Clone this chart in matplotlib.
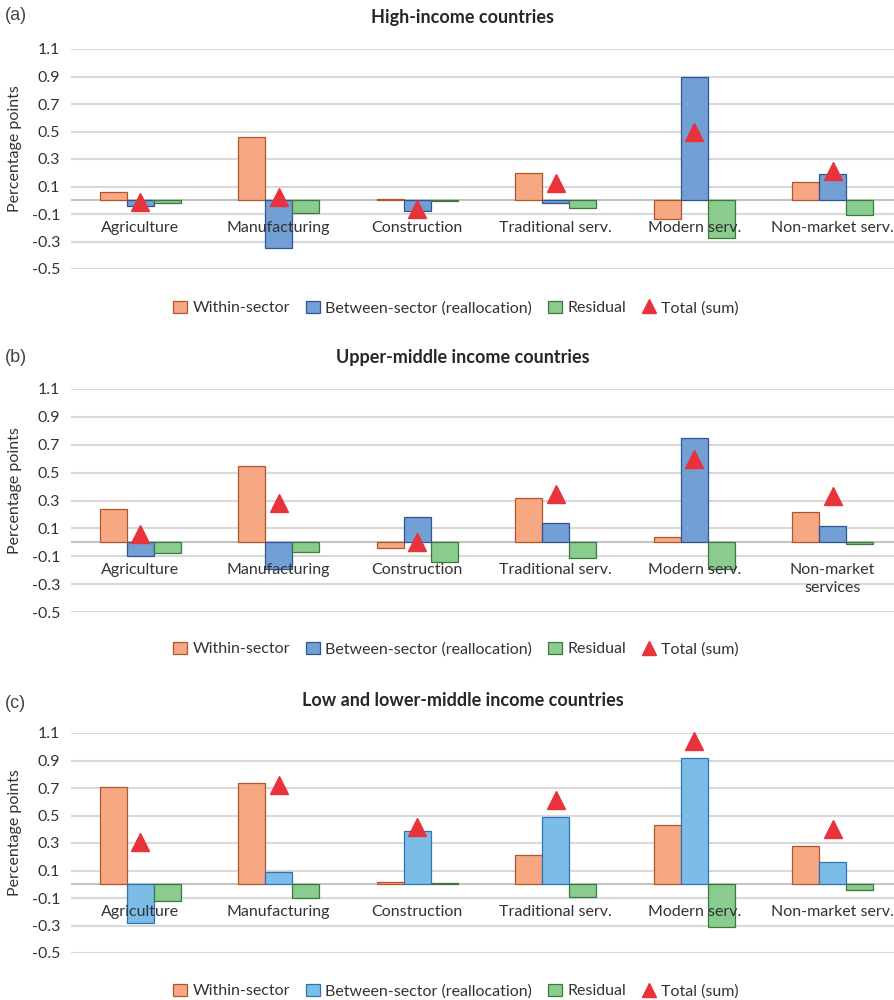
import matplotlib
matplotlib.use("Agg")
import matplotlib.pyplot as plt
import matplotlib.transforms as mtransforms
from matplotlib.patches import Patch
from matplotlib.lines import Line2D

plt.rcParams['font.family'] = ['Lato', 'DejaVu Sans']

SECTORS = ["Agriculture", "Manufacturing", "Construction",
           "Traditional serv.", "Modern serv.", "Non-market serv."]
SECTORS_B = ["Agriculture", "Manufacturing", "Construction",
             "Traditional serv.", "Modern serv.", "Non-market\nservices"]
Y_TICKS = [1.1, 0.9, 0.7, 0.5, 0.3, 0.1, -0.1, -0.3, -0.5]
LEGEND_LABELS = ["Within-sector", "Between-sector (reallocation)", "Residual", "Total (sum)"]

# (a) high-income
high_within = [0.06, 0.46, 0.007, 0.20, -0.135, 0.13]
high_between = [-0.045, -0.345, -0.075, -0.02, 0.90, 0.19]
high_resid = [-0.02, -0.095, -0.003, -0.055, -0.275, -0.105]
high_total = [-0.01, 0.025, -0.065, 0.125, 0.495, 0.215]

# (b) upper-middle income
upper_within = [0.24, 0.55, -0.04, 0.32, 0.04, 0.22]
upper_between = [-0.10, -0.19, 0.18, 0.14, 0.75, 0.12]
upper_resid = [-0.08, -0.07, -0.14, -0.11, -0.19, -0.01]
upper_total = [0.06, 0.285, 0.0, 0.35, 0.60, 0.33]

# (c) low and lower-middle income
low_within = [0.71, 0.74, 0.02, 0.21, 0.43, 0.28]
low_between = [-0.28, 0.09, 0.39, 0.49, 0.92, 0.16]
low_resid = [-0.12, -0.10, 0.01, -0.09, -0.31, -0.04]
low_total = [0.31, 0.725, 0.415, 0.61, 1.04, 0.40]

WITHIN_C, WITHIN_E = '#F6A882', '#B5532B'
BLUE_C, BLUE_E = '#729FD4', '#2F5597'
LBLUE_C, LBLUE_E = '#7CBDE8', '#2E75B6'
RESID_C, RESID_E = '#8ACB8E', '#3B7A3B'
TRI_C = '#E8323C'
TEXT_C = '#333333'

W, H = 895, 1000
fig = plt.figure(figsize=(W / 100, H / 100), dpi=100)


def draw_panel(top_px, bottom_px, letter, title, title_y, letter_y, legend_y,
               labels, within, between, resid, total, bcol, bedge):
    ax = fig.add_axes([71 / W, 1 - bottom_px / H, 824 / W, (bottom_px - top_px) / H])
    ax.set_xlim(-0.5, 5.45)
    ax.set_ylim(-0.5, 1.1)
    for v in Y_TICKS:
        ax.axhline(v, color='#D9D9D9', lw=1.5, zorder=0)
    ax.axhline(0, color='#C4C4C4', lw=1.5, zorder=1)
    bw = 0.195
    x = list(range(len(labels)))
    ax.bar([i - bw for i in x], within, bw, color=WITHIN_C, edgecolor=WITHIN_E, lw=0.9, zorder=2)
    ax.bar(x, between, bw, color=bcol, edgecolor=bedge, lw=0.9, zorder=2)
    ax.bar([i + bw for i in x], resid, bw, color=RESID_C, edgecolor=RESID_E, lw=0.9, zorder=2)
    ax.plot(x, total, ls='none', marker='^', ms=12.5, color=TRI_C, mec=TRI_C, zorder=4, clip_on=False)

    ax.set_yticks(Y_TICKS)
    ax.set_yticklabels([f"{v:.1f}" for v in Y_TICKS], fontsize=11.5, color=TEXT_C)
    ax.tick_params(axis='y', length=0, pad=8)
    ax.set_xticks([])
    for s in ax.spines.values():
        s.set_visible(False)

    trans = mtransforms.offset_copy(ax.transData, fig=fig, y=-21, units='dots')
    for i, lab in enumerate(labels):
        ax.text(i, 0, lab, transform=trans, ha='center', va='top', fontsize=11.5,
                color=TEXT_C, linespacing=1.35, zorder=3)

    ycen = (top_px + bottom_px) / 2 - 10
    fig.text(15 / W, 1 - ycen / H, "Percentage points", rotation=90, ha='center', va='center',
             fontsize=11.5, color=TEXT_C)
    fig.text(463 / W, 1 - title_y / H, title, ha='center', va='center', fontsize=13,
             fontweight='bold', color='#262626')
    fig.text(5 / W, 1 - letter_y / H, letter, ha='left', va='center', fontsize=13,
             family=['Liberation Sans', 'DejaVu Sans'], color='#444444')

    handles = [Patch(facecolor=WITHIN_C, edgecolor=WITHIN_E, lw=0.9),
               Patch(facecolor=bcol, edgecolor=bedge, lw=0.9),
               Patch(facecolor=RESID_C, edgecolor=RESID_E, lw=0.9),
               Line2D([], [], ls='none', marker='^', ms=10, color=TRI_C)]
    leg = fig.legend(handles, LEGEND_LABELS, loc='center', ncol=4, frameon=False,
                     bbox_to_anchor=(456 / W, 1 - (legend_y + 1) / H), fontsize=11.5,
                     handlelength=0.85, handleheight=0.85, handletextpad=0.35,
                     columnspacing=1.0)
    for t in leg.get_texts():
        t.set_color(TEXT_C)
    return ax


draw_panel(49, 269, "(a)", "High-income countries", 17, 15, 307,
           SECTORS, high_within, high_between, high_resid, high_total, BLUE_C, BLUE_E)
draw_panel(389, 612, "(b)", "Upper-middle income countries", 358, 357, 648,
           SECTORS_B, upper_within, upper_between, upper_resid, upper_total, BLUE_C, BLUE_E)
draw_panel(733, 953, "(c)", "Low and lower-middle income countries", 700, 703, 990,
           SECTORS, low_within, low_between, low_resid, low_total, LBLUE_C, LBLUE_E)

fig.savefig("out.png", dpi=100)
